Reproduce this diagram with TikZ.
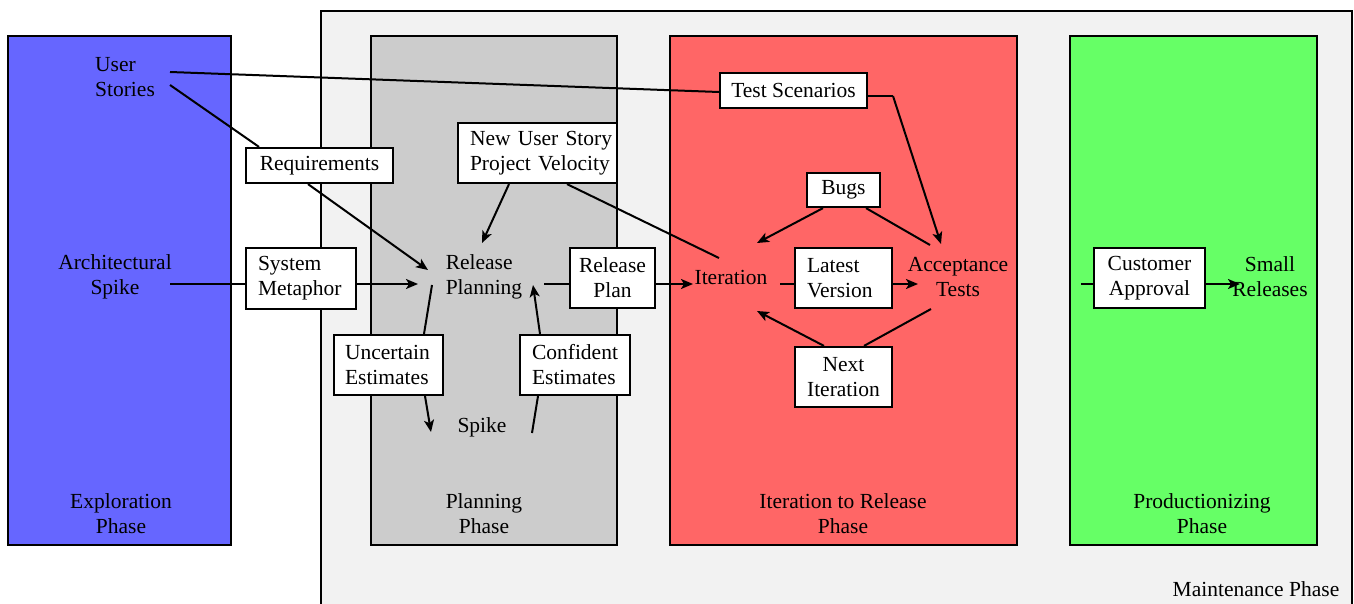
\documentclass[tikz,border=0pt]{standalone}
\usepackage{fontspec}
\setmainfont{Liberation Serif}
\newfontfamily\tms{Liberation Serif}
\usetikzlibrary{arrows.meta}
\begin{document}
\begin{tikzpicture}[x=1pt,y=-1pt,
  phase/.style={draw=black,line width=2.4pt},
  lbl/.style={draw=black,fill=white,line width=2.2pt,inner sep=0pt,align=center,font=\tms\fontsize{21.5}{25}\selectfont},
  lbll/.style={lbl,align=left},
  txt/.style={inner sep=0pt,align=center,font=\tms\fontsize{21.5}{25}\selectfont},
  edge/.style={line width=2pt},
  arr/.style={line width=2pt,-{Stealth[length=12pt,width=10pt,inset=3pt]}}]
\useasboundingbox (0,0) rectangle (1354,604);
% clusters
\draw[phase,fill={rgb,255:red,242;green,242;blue,242}] (321,11) rectangle (1352,620);
\node[txt] (maint) at (1256,589) {Maintenance Phase};
\draw[phase,fill={rgb,255:red,102;green,102;blue,255}] (8,36) rectangle (231,545);
\node[txt] (expl) at (121,514) {Exploration\\Phase};
\draw[phase,fill={rgb,255:red,204;green,204;blue,204}] (371,36) rectangle (617,545);
\node[txt] (plan) at (484,514) {Planning\\Phase};
\draw[phase,fill={rgb,255:red,255;green,102;blue,102}] (670,36) rectangle (1017,545);
\node[txt] (iterp) at (843,514) {Iteration to Release\\Phase};
\draw[phase,fill={rgb,255:red,102;green,255;blue,102}] (1070,36) rectangle (1317,545);
\node[txt] (prodp) at (1202,514) {Productionizing\\Phase};
% plain nodes
\node[txt,align=left] (us) at (125,77) {User\\Stories};
\node[txt] (as) at (115,277) {Architectural\\Spike};
\node[txt,align=left] (rp) at (484,277) {Release\\Planning};
\node[txt] (spike) at (482,427) {Spike};
\node[txt] (it) at (731,277) {Iteration};
\node[txt] (at) at (958,277) {Acceptance\\Tests};
\node[txt] (sr) at (1270,277) {Small\\Releases};
% label boxes
\node[lbl,minimum width=147pt,minimum height=35pt] (req) at (319.5,165.5) {Requirements};
\node[lbll,minimum width=110pt,minimum height=61pt,text width=86pt] (sm) at (301,278.5) {System\\Metaphor};
\node[lbll,minimum width=159pt,minimum height=60pt,text width=135pt] (nus) at (537.5,153) {\mbox{New User Story}\\\mbox{Project Velocity}};
\node[lbll,minimum width=109pt,minimum height=60pt,text width=87pt] (ue) at (388.5,365) {Uncertain\\Estimates};
\node[lbll,minimum width=110pt,minimum height=60pt,text width=86pt] (ce) at (575,365) {Confident\\Estimates};
\node[lbl,minimum width=85pt,minimum height=60pt] (rpl) at (612.5,278) {Release\\Plan};
\node[lbl,minimum width=147pt,minimum height=35pt] (ts) at (793.5,90.5) {Test Scenarios};
\node[lbl,minimum width=73pt,minimum height=34pt] (bugs) at (843.5,190) {Bugs};
\node[lbll,minimum width=97pt,minimum height=60pt,text width=73pt] (lv) at (843.5,278) {Latest\\Version};
\node[lbl,minimum width=97pt,minimum height=60pt] (ni) at (843.5,377) {Next\\Iteration};
\node[lbl,minimum width=111pt,minimum height=60pt] (ca) at (1149.5,278) {Customer\\Approval};
% edges
\coordinate (caIn) at (1081,284);
\draw[edge] (170,72) -- (ts.west |- 0,92);
\draw[edge] (ts.east |- 0,96) -- (893,96);
\draw[arr] (893,96) -- (941,244);
\draw[edge] (170,85) -- (req.north -| 259,0);
\draw[arr] (req.south -| 308,0) -- (428,270);
\draw[edge] (170,284) -- (sm.west |- 0,284);
\draw[arr] (sm.east |- 0,284) -- (418,284);
\draw[edge] (719,258) -- (nus.south -| 567,0);
\draw[arr] (nus.south -| 509,0) -- (482,243);
\draw[edge] (432,285) -- (ue.north -| 424,0);
\draw[arr] (ue.south -| 425,0) -- (431,432);
\draw[edge] (532,433) -- (ce.south -| 538,0);
\draw[arr] (ce.north -| 540,0) -- (533,285);
\draw[edge] (544,284) -- (rpl.west |- 0,284);
\draw[arr] (rpl.east |- 0,284) -- (693,284);
\draw[edge] (780,284) -- (lv.west |- 0,284);
\draw[arr] (lv.east |- 0,284) -- (918,284);
\draw[edge] (930,245) -- (bugs.south -| 866,0);
\draw[arr] (bugs.south -| 823,0) -- (757,243);
\draw[edge] (931,309) -- (ni.north -| 864,0);
\draw[arr] (ni.north -| 824,0) -- (757,311);
\draw[edge] (caIn) -- (ca.west |- 0,284);
\draw[arr] (ca.east |- 0,284) -- (1240,284);
\end{tikzpicture}
\end{document}
